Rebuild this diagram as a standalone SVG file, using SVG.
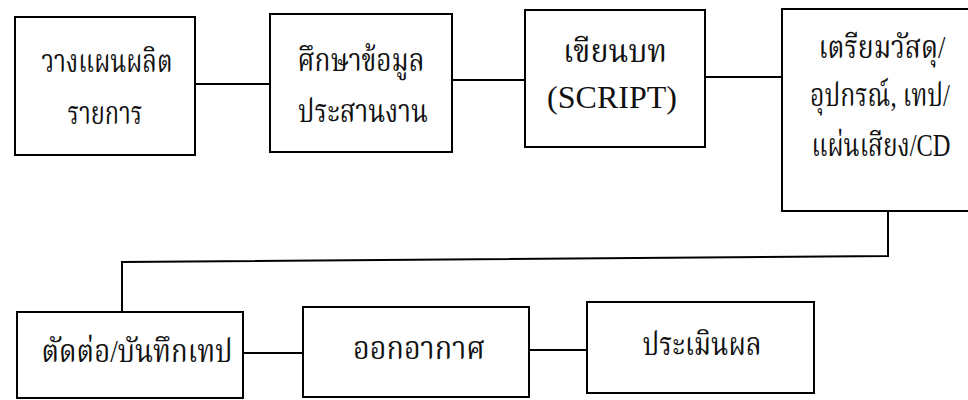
<svg xmlns="http://www.w3.org/2000/svg" width="968" height="400" viewBox="0 0 968 400">
<style>
.box{fill:#fff;stroke:#000;stroke-width:2}
.ln{fill:none;stroke:#000;stroke-width:2}
.t{font-family:"Liberation Serif","Noto Serif Thai","Noto Sans Thai","Noto Sans",serif;font-size:32px;fill:#111;text-anchor:middle}
</style>
<rect width="968" height="400" fill="#fff"/>
<g id="connectors">
<path class="ln" d="M195 84 H270"/>
<path class="ln" d="M452 80 H525"/>
<path class="ln" d="M705 77 H782"/>
<path class="ln" d="M888 211 V256 L122 262 V312"/>
<path class="ln" d="M243 353 H303"/>
<path class="ln" d="M529 350 H587"/>
</g>
<g id="n1"><rect class="box" x="15" y="17" width="180" height="138"/>
<text class="t" x="107" y="72" textLength="131" lengthAdjust="spacingAndGlyphs">วางแผนผลิต</text>
<text class="t" x="105" y="124" textLength="75" lengthAdjust="spacingAndGlyphs">รายการ</text></g>
<g id="n2"><rect class="box" x="270" y="14" width="182" height="138"/>
<text class="t" x="361" y="71" textLength="127" lengthAdjust="spacingAndGlyphs">ศึกษาข้อมูล</text>
<text class="t" x="363" y="122" textLength="130" lengthAdjust="spacingAndGlyphs">ประสานงาน</text></g>
<g id="n3"><rect class="box" x="525" y="10" width="180" height="137"/>
<text class="t" x="615" y="62" textLength="104" lengthAdjust="spacingAndGlyphs">เขียนบท</text>
<text class="t" x="612" y="108" font-size="29">(SCRIPT)</text></g>
<g id="n4"><path class="box" d="M968 9 H782 V211 H968"/>
<text class="t" x="882" y="58" textLength="127" lengthAdjust="spacingAndGlyphs">เตรียมวัสดุ/</text>
<text class="t" x="880" y="106" textLength="140" lengthAdjust="spacingAndGlyphs">อุปกรณ์, เทป/</text>
<text class="t" x="881" y="156" textLength="139" lengthAdjust="spacingAndGlyphs">แผ่นเสียง/CD</text></g>
<g id="n5"><rect class="box" x="17" y="312" width="226" height="86"/>
<text class="t" x="137" y="362" textLength="191" lengthAdjust="spacingAndGlyphs">ตัดต่อ/บันทึกเทป</text></g>
<g id="n6"><rect class="box" x="303" y="307" width="226" height="90"/>
<text class="t" x="419" y="359" textLength="132" lengthAdjust="spacingAndGlyphs">ออกอากาศ</text></g>
<g id="n7"><rect class="box" x="587" y="302" width="227" height="91"/>
<text class="t" x="702" y="355" textLength="119" lengthAdjust="spacingAndGlyphs">ประเมินผล</text></g>
</svg>
